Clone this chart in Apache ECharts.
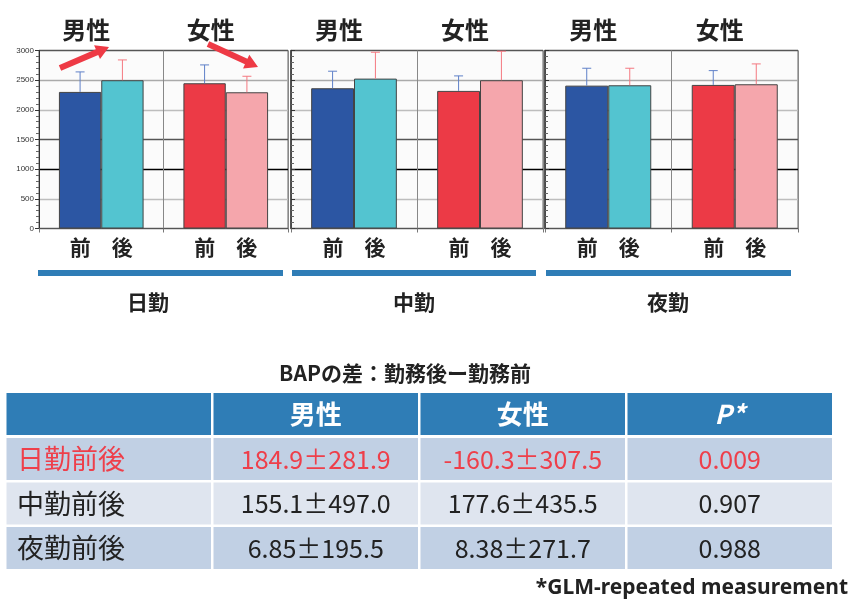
<!DOCTYPE html>
<html>
<head>
<meta charset="utf-8">
<script src="https://cdn.jsdelivr.net/npm/echarts@6/dist/echarts.min.js"></script>
<style>
  html, body { margin: 0; padding: 0; background: #fff; }
  #chart { width: 850px; height: 601px; }
</style>
</head>
<body>
<div id="chart"></div>
<script>
// --- data ---
const shifts = ['日勤', '中勤', '夜勤'];
const sexes = ['男性', '女性'];
const phases = ['前', '後'];

// BAP, mean and SD per shift (index 0 = 日勤, 1 = 中勤, 2 = 夜勤)
const maleBefore = [2302, 2364, 2408];
const maleBeforeSd = [337, 287, 293];
const maleAfter = [2499, 2526, 2414];
const maleAfterSd = [342, 445, 287];
const femaleBefore = [2448, 2319, 2420];
const femaleBeforeSd = [309, 253, 241];
const femaleAfter = [2296, 2499, 2431];
const femaleAfterSd = [270, 489, 343];

const yMin = 0, yMax = 3000, yStep = 500;

// table: BAPの差 (勤務後 - 勤務前)
const tableTitle = 'BAPの差：勤務後ー勤務前';
const tableHeader = ['', '男性', '女性', 'P*'];
const rowNames = ['日勤前後', '中勤前後', '夜勤前後'];
const maleDiff = ['184.9±281.9', '155.1±497.0', '6.85±195.5'];
const femaleDiff = ['-160.3±307.5', '177.6±435.5', '8.38±271.7'];
const pValues = ['0.009', '0.907', '0.988'];
const footnote = '*GLM-repeated measurement';

// --- layout / style ---
const JP = '"Noto Sans CJK JP", "Noto Sans", sans-serif';
const panels = [
    { left: 39, width: 249 },
    { left: 291, width: 252 },
    { left: 545, width: 253 }
];
const gridTop = 50.5, gridHeight = 178;
const beforeColors = ['#2c56a3', '#ec3a46'];
const afterColors = ['#53c4d0', '#f5a6ac'];
const errBefore = '#5f80c8';
const errAfter = '#f47880';
const splitColors = ['#666', '#bdbdbd', '#000', '#555', '#bdbdbd', '#aaa', '#555'];

const chart = echarts.init(document.getElementById('chart'));

const grids = [], xAxes = [], yAxes = [], series = [];

panels.forEach((p, i) => {
    grids.push({
        left: p.left, top: gridTop, width: p.width, height: gridHeight,
        show: true, backgroundColor: '#fbfbfb', borderColor: '#666', borderWidth: 1
    });
    // bottom axis carrying the bars, labels 前 / 後 under each pair
    xAxes.push({
        type: 'category', gridIndex: i, data: sexes, position: 'bottom',
        axisLine: { show: true, lineStyle: { color: '#555' } },
        axisTick: { show: true, length: 4, lineStyle: { color: '#777' } },
        splitLine: { show: true, lineStyle: { color: '#888', width: 1 } },
        axisLabel: {
            margin: 8,
            formatter: () => '{a|' + phases[0] + '}{a|' + phases[1] + '}',
            rich: { a: { width: 42, align: 'center', fontSize: 21, fontWeight: 'bold', color: '#222', fontFamily: JP } }
        }
    });
    // top axis only for 男性 / 女性 labels
    xAxes.push({
        type: 'category', gridIndex: i, data: sexes, position: 'top',
        axisLine: { show: false }, axisTick: { show: false },
        axisLabel: {
            margin: 9, fontSize: 24, fontWeight: 'bold', color: '#222', fontFamily: JP,
            padding: [0, 30, 0, 0]
        }
    });
    yAxes.push({
        type: 'value', gridIndex: i, min: yMin, max: yMax, interval: yStep,
        axisLine: { show: true, lineStyle: { color: '#333', width: i === 0 ? 1 : 1.5 } },
        axisTick: { show: true, inside: i !== 0, length: 4, lineStyle: { color: '#333' } },
        minorTick: { show: true, splitNumber: 5, length: 3, lineStyle: { color: '#666' } },
        axisLabel: {
            show: i === 0, fontSize: 8, color: '#333', margin: 5, fontFamily: 'Liberation Sans',
            formatter: v => String(v)
        },
        splitLine: { show: true, lineStyle: { color: splitColors, width: 1.3 } }
    });

    const barStyle = { borderColor: '#444', borderWidth: 1 };
    series.push({
        type: 'bar', name: phases[0], xAxisIndex: i * 2, yAxisIndex: i,
        barWidth: '34%', barGap: '0%',
        data: [
            { value: maleBefore[i], itemStyle: Object.assign({ color: beforeColors[0] }, barStyle) },
            { value: femaleBefore[i], itemStyle: Object.assign({ color: beforeColors[1] }, barStyle) }
        ]
    });
    series.push({
        type: 'bar', name: phases[1], xAxisIndex: i * 2, yAxisIndex: i,
        barWidth: '34%', barGap: '0%',
        data: [
            { value: maleAfter[i], itemStyle: Object.assign({ color: afterColors[0] }, barStyle) },
            { value: femaleAfter[i], itemStyle: Object.assign({ color: afterColors[1] }, barStyle) }
        ]
    });
    // upper error bars: [category, mean, sd, side(-1 before / +1 after)]
    series.push({
        type: 'custom', xAxisIndex: i * 2, yAxisIndex: i, z: 3,
        encode: { x: 0, y: 1 },
        data: [
            [0, maleBefore[i], maleBeforeSd[i], -1],
            [0, maleAfter[i], maleAfterSd[i], 1],
            [1, femaleBefore[i], femaleBeforeSd[i], -1],
            [1, femaleAfter[i], femaleAfterSd[i], 1]
        ],
        renderItem: (params, api) => {
            const cat = api.value(0), mean = api.value(1), sd = api.value(2), side = api.value(3);
            const band = api.size([1, 0])[0];
            const base = api.coord([cat, mean]);
            const top = api.coord([cat, mean + sd]);
            const x = base[0] + side * band * 0.17;
            const style = { stroke: side < 0 ? errBefore : errAfter, lineWidth: 1 };
            return {
                type: 'group',
                children: [
                    { type: 'line', shape: { x1: x, y1: base[1], x2: x, y2: top[1] }, style },
                    { type: 'line', shape: { x1: x - 4.5, y1: top[1], x2: x + 4.5, y2: top[1] }, style }
                ]
            };
        }
    });
});

// block arrow polygon
function arrowPoints(x1, y1, x2, y2, w, hl, hw) {
    const dx = x2 - x1, dy = y2 - y1, L = Math.hypot(dx, dy);
    const ux = dx / L, uy = dy / L, nx = -uy, ny = ux;
    const bx = x2 - ux * hl, by = y2 - uy * hl;
    return [
        [x1 + nx * w / 2, y1 + ny * w / 2], [bx + nx * w / 2, by + ny * w / 2],
        [bx + nx * hw / 2, by + ny * hw / 2], [x2, y2],
        [bx - nx * hw / 2, by - ny * hw / 2], [bx - nx * w / 2, by - ny * w / 2],
        [x1 - nx * w / 2, y1 - ny * w / 2]
    ];
}

const graphics = [];
graphics.push({ type: 'polygon', shape: { points: arrowPoints(60, 68, 109, 47, 6, 13, 15) }, style: { fill: '#ee3a45' }, z: 10 });
graphics.push({ type: 'polygon', shape: { points: arrowPoints(208, 44, 258, 67, 6, 13, 15) }, style: { fill: '#ee3a45' }, z: 10 });

// shift brackets and names
const stripX = [[38, 283], [292, 536], [546, 791]];
const shiftNameX = [148, 414, 668];
shifts.forEach((s, i) => {
    graphics.push({ type: 'rect', shape: { x: stripX[i][0], y: 270, width: stripX[i][1] - stripX[i][0], height: 6 }, style: { fill: '#2f7db6' } });
    graphics.push({ type: 'text', x: shiftNameX[i], y: 302, style: { text: s, fontSize: 21, fontWeight: 'bold', fill: '#222', fontFamily: JP, align: 'center', verticalAlign: 'middle' } });
});

// table
graphics.push({ type: 'text', x: 405, y: 373, style: { text: tableTitle, fontSize: 21, fontWeight: 'bold', fill: '#222', fontFamily: JP, align: 'center', verticalAlign: 'middle' } });
const colX = [6.5, 213.5, 420.5, 627.5];
const colW = 204.5;
const rowY = [393, 438, 482.5, 527];
const rowH = 42;
const rowFill = ['#c1d0e4', '#dfe5ef', '#c1d0e4'];
tableHeader.forEach((h, c) => {
    graphics.push({ type: 'rect', shape: { x: colX[c], y: rowY[0], width: colW, height: rowH }, style: { fill: '#2f7db6' } });
    if (h) {
        graphics.push({
            type: 'text', x: colX[c] + colW / 2, y: rowY[0] + rowH / 2,
            style: {
                text: h, fill: '#fff', fontSize: 26, fontWeight: 'bold', fontFamily: JP,
                fontStyle: c === 3 ? 'italic' : 'normal', align: 'center', verticalAlign: 'middle'
            }
        });
    }
});
rowNames.forEach((name, r) => {
    const cells = [name, maleDiff[r], femaleDiff[r], pValues[r]];
    const color = r === 0 ? '#ee3f4a' : '#222';
    cells.forEach((t, c) => {
        const y = rowY[r + 1];
        graphics.push({ type: 'rect', shape: { x: colX[c], y: y, width: colW, height: rowH }, style: { fill: rowFill[r] } });
        graphics.push({
            type: 'text', x: c === 0 ? 17 : colX[c] + colW / 2, y: y + rowH / 2,
            style: {
                text: t, fill: color, fontSize: c === 0 ? 27 : 25, fontFamily: JP,
                align: c === 0 ? 'left' : 'center', verticalAlign: 'middle'
            }
        });
    });
});
graphics.push({ type: 'text', x: 848, y: 588, style: { text: footnote, fontSize: 21, fontWeight: 'bold', fill: '#222', fontFamily: '"Noto Sans", sans-serif', align: 'right', verticalAlign: 'middle' } });

chart.setOption({
    animation: false,
    backgroundColor: '#fff',
    grid: grids,
    xAxis: xAxes,
    yAxis: yAxes,
    series: series,
    graphic: { elements: graphics }
});
</script>
</body>
</html>
